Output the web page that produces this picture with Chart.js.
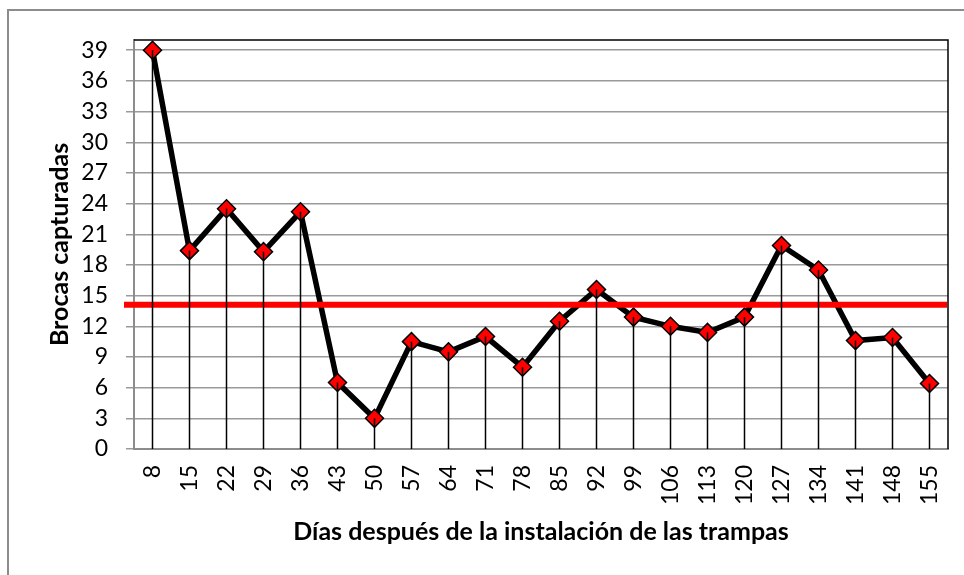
<!DOCTYPE html>
<html>
<head>
<meta charset="utf-8">
<script src="https://cdn.jsdelivr.net/npm/chart.js@4.4.1/dist/chart.umd.min.js"></script>
<style>
  html, body { margin: 0; padding: 0; background: #fff; overflow: hidden; width: 964px; height: 575px; }
  #frame { position: absolute; left: 7px; top: 9px; width: 2000px; height: 2000px; border-top: 2px solid #8c8c8c; border-left: 2px solid #8c8c8c; box-sizing: border-box; }
  canvas { position: absolute; left: 0; top: 0; }
</style>
</head>
<body>
<div id="frame"></div>
<canvas id="c" width="964" height="575"></canvas>
<script>
// ---- data ----
const days = ['8','15','22','29','36','43','50','57','64','71','78','85','92','99','106','113','120','127','134','141','148','155'];
const brocas = [39, 19.4, 23.5, 19.3, 23.2, 6.5, 3.0, 10.5, 9.5, 11.0, 8.0, 12.5, 15.6, 12.9, 12.0, 11.4, 12.9, 19.9, 17.5, 10.6, 10.9, 6.4];
const yTicks = [0, 3, 6, 9, 12, 15, 18, 21, 24, 27, 30, 33, 36, 39];
const umbral = 14.1;
const yTitle = 'Brocas capturadas';
const xTitle = 'Días después de la instalación de las trampas';

const overlay = {
  id: 'overlay',
  afterDatasetsDraw(chart) {
    const {ctx, chartArea: a, scales: {x, y}} = chart;
    ctx.save();
    // plot-area top/right border
    ctx.strokeStyle = '#000';
    ctx.lineWidth = 1.5;
    ctx.beginPath();
    ctx.moveTo(a.left, a.top);
    ctx.lineTo(a.right, a.top);
    ctx.lineTo(a.right, a.bottom);
    ctx.stroke();
    // threshold line
    const ty = y.getPixelForValue(umbral);
    ctx.strokeStyle = '#ff0000';
    ctx.lineWidth = 6;
    ctx.beginPath();
    ctx.moveTo(a.left - 10, ty);
    ctx.lineTo(a.right - 1, ty);
    ctx.stroke();
    // drop lines
    ctx.strokeStyle = '#000';
    ctx.lineWidth = 1.5;
    const y0 = y.getPixelForValue(0);
    brocas.forEach((v, i) => {
      const px = x.getPixelForValue(i);
      const py = y.getPixelForValue(v);
      ctx.beginPath();
      ctx.moveTo(px, py);
      ctx.lineTo(px, y0);
      ctx.stroke();
    });
    ctx.restore();
  }
};

new Chart(document.getElementById('c'), {
  type: 'line',
  data: {
    labels: days,
    datasets: [{
      data: brocas,
      borderColor: '#000',
      borderWidth: 5.5,
      tension: 0,
      pointStyle: 'rectRot',
      pointRadius: 9,
      pointBackgroundColor: '#ff0000',
      pointBorderColor: '#000',
      pointBorderWidth: 1.5
    }]
  },
  options: {
    responsive: false,
    animation: false,
    devicePixelRatio: 1,
    layout: { padding: { top: 40, right: 16, left: 0, bottom: 0 } },
    plugins: { legend: { display: false }, tooltip: { enabled: false } },
    scales: {
      x: {
        type: 'category',
        offset: true,
        grid: { display: true, color: 'transparent', drawTicks: false, offset: true },
        border: { display: true, color: '#8c8c8c', width: 2 },
        ticks: {
          minRotation: 90, maxRotation: 90, autoSkip: false,
          padding: 16, color: '#000',
          font: { family: 'Lato', size: 23 }
        },
        title: {
          display: true, text: xTitle, color: '#000',
          font: { family: 'Lato', size: 25, weight: 'bold' },
          padding: { top: 0, bottom: 28 }
        },
        afterFit(s) { s.height = 126; s.paddingLeft = 0; s.paddingRight = 0; }
      },
      y: {
        min: 0, max: 40,
        afterBuildTicks(s) { s.ticks = yTicks.map(v => ({ value: v })); },
        grid: { color: '#9a9a9a', lineWidth: 1.5, drawTicks: true, tickLength: 8, tickColor: '#9a9a9a' },
        border: { display: true, color: '#8c8c8c', width: 2 },
        ticks: {
          autoSkip: false,
          padding: 18, color: '#000',
          font: { family: 'Lato', size: 23 }
        },
        title: {
          display: true, text: yTitle, color: '#000',
          font: { family: 'Lato', size: 25, weight: 'bold' },
          padding: { top: 45, bottom: 0 }
        },
        afterFit(s) { s.width = 134; s.paddingTop = 0; s.paddingBottom = 0; }
      }
    }
  },
  plugins: [overlay]
});
</script>
</body>
</html>
